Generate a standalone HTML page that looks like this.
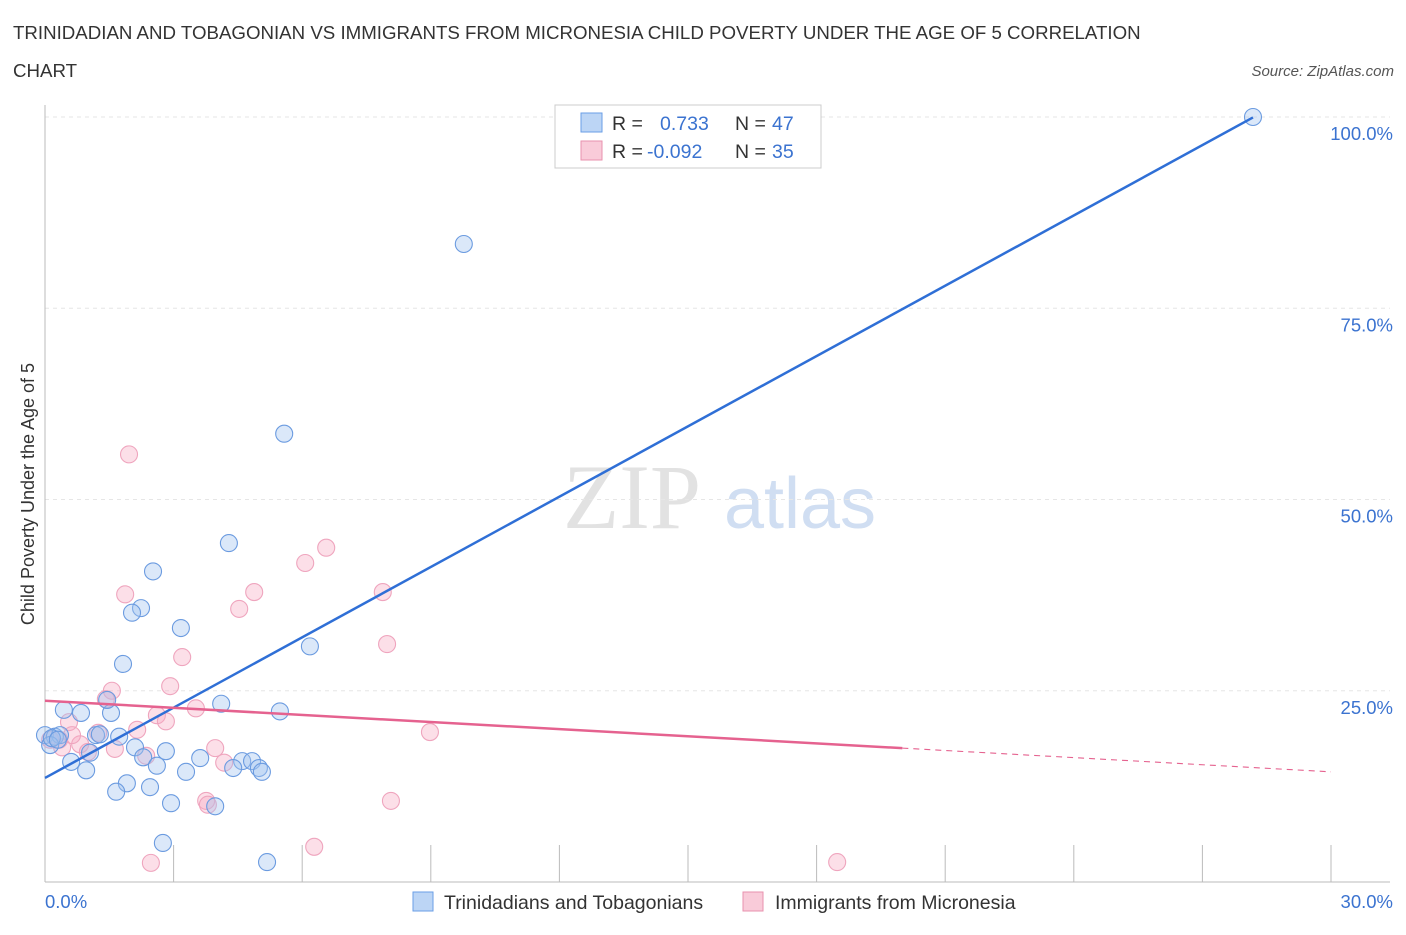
<!DOCTYPE html>
<html><head><meta charset="utf-8"><style>
body{margin:0;background:#fff;font-family:"Liberation Sans",sans-serif}
svg text{font-family:"Liberation Sans",sans-serif}
</style></head><body>
<svg width="1406" height="930" viewBox="0 0 1406 930" xmlns="http://www.w3.org/2000/svg" id="chart">
<text x="13" y="39" font-size="18.7" fill="#333">TRINIDADIAN AND TOBAGONIAN VS IMMIGRANTS FROM MICRONESIA CHILD POVERTY UNDER THE AGE OF 5 CORRELATION</text>
<text x="13" y="77" font-size="18.7" fill="#333">CHART</text>
<text x="1394" y="76" font-size="15" fill="#555" font-style="italic" text-anchor="end">Source: ZipAtlas.com</text>
<g><text x="632" y="528" font-size="92" fill="#e2e2e2" style="font-family:'Liberation Serif',serif" text-anchor="middle">ZIP</text><text x="800" y="528" font-size="72" fill="#d0def2" text-anchor="middle">atlas</text></g>
<g id="grid"></g>
<g id="axes"></g>
<g id="pts"></g>
<g id="lines"></g>
<text transform="translate(34,494) rotate(-90)" font-size="18" fill="#333" text-anchor="middle">Child Poverty Under the Age of 5</text>
<g>
<rect x="555" y="105" width="266" height="63" fill="#fff" stroke="#ccc"/>
<rect x="581" y="113" width="21" height="19" fill="#bcd5f5" stroke="#6a9ee6"/>
<rect x="581" y="141" width="21" height="19" fill="#f9cbd9" stroke="#e891ae"/>
<text x="612" y="130" font-size="19.5" fill="#333">R = </text><text x="660" y="130" font-size="19.5" fill="#3b73d0">0.733</text>
<text x="735" y="130" font-size="19.5" fill="#333">N = </text><text x="772" y="130" font-size="19.5" fill="#3b73d0">47</text>
<text x="612" y="158" font-size="19.5" fill="#333">R = </text><text x="647" y="158" font-size="19.5" fill="#3b73d0">-0.092</text>
<text x="735" y="158" font-size="19.5" fill="#333">N = </text><text x="772" y="158" font-size="19.5" fill="#3b73d0">35</text>
</g>
<g>
<rect x="413" y="892" width="20" height="19" fill="#bcd5f5" stroke="#6a9ee6"/>
<text x="444" y="909" font-size="19.5" fill="#333">Trinidadians and Tobagonians</text>
<rect x="743" y="892" width="20" height="19" fill="#f9cbd9" stroke="#e891ae"/>
<text x="775" y="909" font-size="19.5" fill="#333">Immigrants from Micronesia</text>
</g>
</svg>
<script>
const blueX=[28.18,9.77,5.58,4.29,2.52,2.24,2.03,3.17,6.18,1.82,4.11,5.48,0.44,0.84,1.54,0,0.23,0.35,1.19,1.28,1.73,2.1,2.82,1.05,2.29,3.62,0.61,2.61,4.6,4.83,4.39,4.99,5.06,0.96,3.29,1.91,1.66,2.45,2.94,3.97,2.75,5.18,0.12,0.16,0.3,1.45];
const blueY=[100,83.4,58.6,44.3,40.6,35.8,35.2,33.2,30.8,28.5,23.3,22.3,22.5,22.1,22.1,19.2,19.0,19.2,19.2,19.3,19.0,17.6,17.1,16.9,16.3,16.2,15.7,15.2,15.8,15.8,14.9,14.9,14.4,14.6,14.4,12.9,11.8,12.4,10.3,9.9,5.1,2.6,17.9,18.8,18.6,23.8];
const pinkX=[1.96,6.56,6.07,4.88,1.87,7.88,4.53,7.98,3.2,2.92,1.56,1.42,3.52,2.61,2.82,0.56,2.15,8.98,1.24,0.82,0.33,3.97,1.63,2.36,1.0,4.18,3.76,3.8,8.07,6.28,2.47,18.48,0.4,0.12,0.63];
const pinkY=[55.9,43.7,41.7,37.9,37.6,37.9,35.7,31.1,29.4,25.6,25.0,23.9,22.7,21.8,21.0,20.9,19.9,19.6,19.5,18.0,18.6,17.5,17.4,16.5,17.0,15.6,10.6,10.1,10.6,4.6,2.5,2.6,17.6,18.6,19.2];
const blueTrend=[13.6,3.064];
const pinkTrend=[23.7,-0.31];
const pinkSolidEnd=20;
const yTicks=[25,50,75,100];
const yTickLabels=["25.0%","50.0%","75.0%","100.0%"];
const xTicks=[0,3,6,9,12,15,18,21,24,27,30];
const NS="http://www.w3.org/2000/svg";
const sx=v=>45+v/30*1286, sy=v=>882-v/100*765;
function mk(p,tag,a){const e=document.createElementNS(NS,tag);for(const k in a)e.setAttribute(k,a[k]);p.appendChild(e);return e;}
const grid=document.getElementById('grid'),axes=document.getElementById('axes'),pts=document.getElementById('pts'),lines=document.getElementById('lines');
yTicks.forEach((t,i)=>{
 const l=mk(grid,'line',{x1:45,x2:1390,y1:sy(t),y2:sy(t),stroke:'#e6e6e6','stroke-dasharray':'4,4'});
 
 
 const tx=mk(axes,'text',{x:1393,y:sy(t)+23,'font-size':18.5,fill:'#3b73d0','text-anchor':'end'});tx.textContent=yTickLabels[i];
 
 
});
mk(axes,'line',{x1:45,x2:45,y1:105,y2:882,stroke:'#bbb'});
mk(axes,'line',{x1:45,x2:1390,y1:882,y2:882,stroke:'#bbb'});
xTicks.forEach(t=>{const l=mk(axes,'line',{x1:sx(t),x2:sx(t),y1:845,y2:882,stroke:'#bbb'});
 
 });
let t0=mk(axes,'text',{x:45,y:908,'font-size':18.5,fill:'#3b73d0'});t0.textContent='0.0%';


let t1=mk(axes,'text',{x:1393,y:908,'font-size':18.5,fill:'#3b73d0','text-anchor':'end'});t1.textContent='30.0%';


pinkX.forEach((x,i)=>{const c=mk(pts,'circle',{cx:sx(x),cy:sy(pinkY[i]),r:8.5,fill:'rgba(246,170,195,0.38)',stroke:'#efa5be','stroke-width':1.1});
 
 });
blueX.forEach((x,i)=>{const c=mk(pts,'circle',{cx:sx(x),cy:sy(blueY[i]),r:8.5,fill:'rgba(160,195,240,0.38)',stroke:'#6b9be0','stroke-width':1.1});
 
 });
const bEnd=28.18;
let bl=mk(lines,'line',{x1:sx(0),y1:sy(blueTrend[0]),x2:sx(bEnd),y2:sy(blueTrend[0]+blueTrend[1]*bEnd),stroke:'#2f6fd6','stroke-width':2.5});


let pl=mk(lines,'line',{x1:sx(0),y1:sy(pinkTrend[0]),x2:sx(pinkSolidEnd),y2:sy(pinkTrend[0]+pinkTrend[1]*pinkSolidEnd),stroke:'#e5628f','stroke-width':2.5});


let pd=mk(lines,'line',{x1:sx(pinkSolidEnd),y1:sy(pinkTrend[0]+pinkTrend[1]*pinkSolidEnd),x2:sx(30),y2:sy(pinkTrend[0]+pinkTrend[1]*30),stroke:'#e5628f','stroke-width':1.1,'stroke-dasharray':'6,5'});


</script>
</body></html>
